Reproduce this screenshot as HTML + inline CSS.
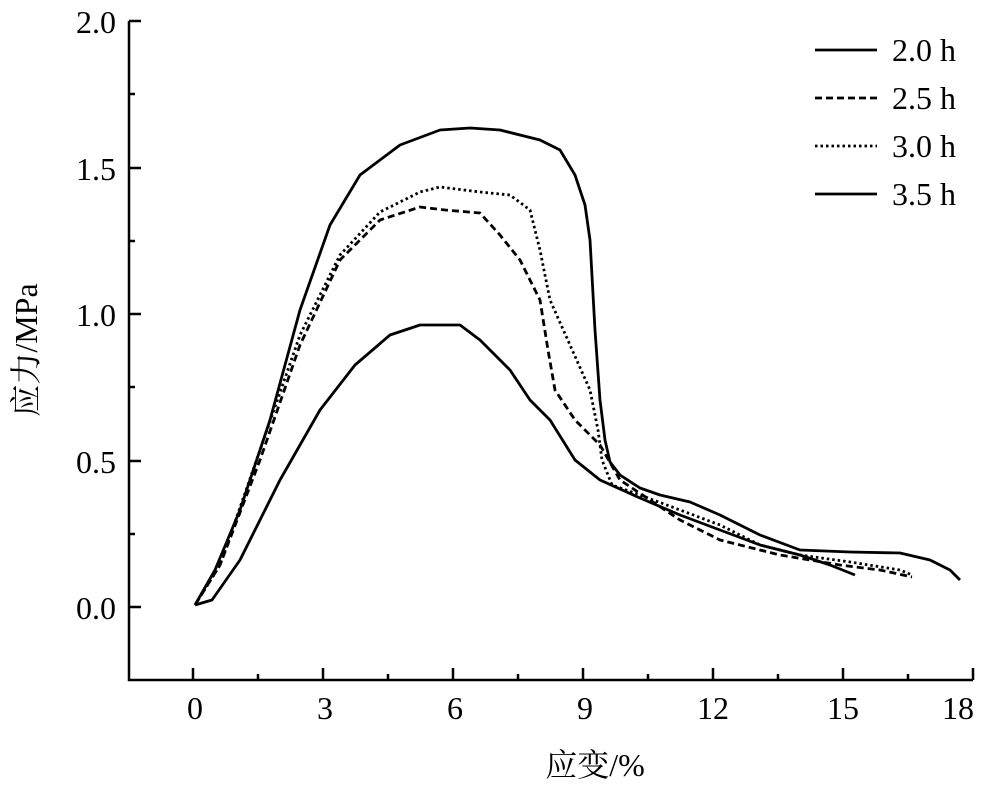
<!DOCTYPE html>
<html><head><meta charset="utf-8"><style>body{margin:0;background:#fff}</style></head><body>
<svg width="1000" height="796" xmlns="http://www.w3.org/2000/svg" font-family="'Liberation Serif','Noto Serif CJK SC',serif" font-size="32">
<g stroke="#000" stroke-width="2.5" fill="none">
<path d="M129,21V680H973"/>
<path d="M129,21h12M129,94h6M129,168h12M129,241h6M129,314h12M129,387h6M129,461h12M129,534h6M129,607h12"/>
<path d="M193,680v-12M258,680v-6M323,680v-12M388,680v-6M453,680v-12M518,680v-6M583,680v-12M648,680v-6M713,680v-12M778,680v-6M843,680v-12M908,680v-6M973,680v-12"/>
</g>
<g text-anchor="end"><text x="116" y="33">2.0</text><text x="116" y="180">1.5</text><text x="116" y="326">1.0</text><text x="116" y="473">0.5</text><text x="116" y="619">0.0</text></g>
<g text-anchor="middle"><text x="195" y="719">0</text><text x="325" y="719">3</text><text x="455" y="719">6</text><text x="585" y="719">9</text><text x="713" y="719">12</text><text x="843" y="719">15</text><text x="958" y="719">18</text>
<text x="595" y="776">应变/%</text>
<text transform="translate(37,350) rotate(-90)">应力/MPa</text></g>
<g fill="none" stroke="#000" stroke-width="2.8" stroke-linejoin="round">
<polyline points="195,605 215,570 240,510 270,420 300,310 330,225 360,175 400,145 440,130 470,128 500,130 540,140 560,150 575,175 585,205 590,240 595,330 600,400 605,440 610,462 620,475 640,488 660,495 690,502 720,515 760,535 800,550 850,552 900,553 930,560 950,570 960,580"/>
<polyline stroke-dasharray="7,4" points="195,605 220,565 260,460 300,345 340,260 380,220 420,207 445,210 480,213 500,235 520,260 540,300 548,350 555,390 575,420 600,445 620,480 650,500 680,520 720,540 780,555 840,565 880,570 912,577"/>
<polyline stroke-dasharray="2.5,3" points="195,605 220,565 260,450 300,335 340,255 380,212 420,192 440,187 480,192 510,195 530,210 540,250 550,300 570,345 590,390 598,430 602,460 612,485 640,495 680,510 720,525 760,545 800,555 850,562 900,570 912,575"/>
<polyline points="195,605 212,600 240,560 280,480 320,410 355,365 390,335 420,325 460,325 480,340 510,370 530,400 550,420 575,460 600,480 640,498 680,515 720,530 760,545 800,555 830,565 855,575"/>
<line x1="815" y1="50" x2="877" y2="50"/>
<line x1="815" y1="98" x2="877" y2="98" stroke-dasharray="7,4"/>
<line x1="815" y1="146" x2="877" y2="146" stroke-dasharray="2.5,3"/>
<line x1="815" y1="194" x2="877" y2="194"/>
</g>
<text x="892" y="61">2.0 h</text><text x="892" y="109">2.5 h</text><text x="892" y="157">3.0 h</text><text x="892" y="205">3.5 h</text>
</svg>
</body></html>
